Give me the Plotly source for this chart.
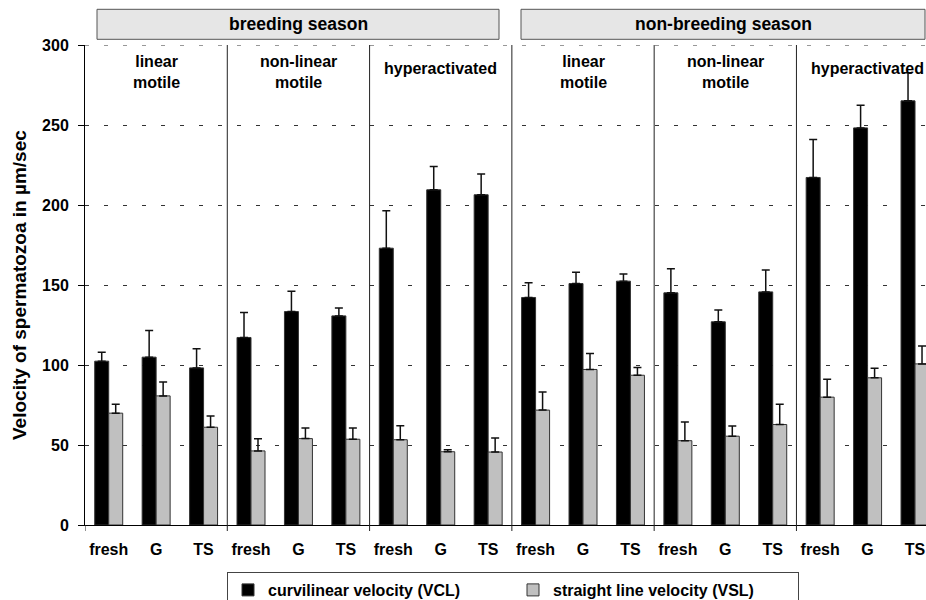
import plotly.graph_objects as go

# ---- data -------------------------------------------------------------
treatments = ["fresh", "G", "TS"] * 6
panel_titles = ["linear<br>motile", "non-linear<br>motile", "hyperactivated",
                "linear<br>motile", "non-linear<br>motile", "hyperactivated"]
seasons = ["breeding season", "non-breeding season"]

vcl = [102.4, 104.9, 98.2, 117.2, 133.4, 130.7, 173.0, 209.5, 206.4,
       142.2, 150.9, 152.4, 145.1, 127.0, 145.7, 217.2, 248.2, 265.1]
vcl_err = [5.6, 16.7, 11.9, 15.6, 12.7, 5.0, 23.4, 14.6, 12.9,
           9.2, 7.1, 4.4, 15.0, 7.3, 13.6, 23.7, 14.2, 17.5]
vsl = [69.9, 80.7, 61.1, 46.3, 54.0, 53.6, 53.3, 45.8, 45.6,
       71.8, 97.2, 93.6, 52.7, 55.5, 62.8, 79.9, 92.0, 100.7]
vsl_err = [5.6, 8.6, 7.1, 7.6, 6.6, 7.0, 8.8, 1.3, 8.7,
           11.4, 10.0, 4.8, 11.6, 6.3, 12.7, 11.2, 6.0, 11.1]

y_ticks = [0, 50, 100, 150, 200, 250, 300]

# ---- layout constants -------------------------------------------------
FONT = "Liberation Sans, Arial, sans-serif"
W, H = 926, 600
ML, MR, MT, MB = 85, 0, 45, 75
PW, PH = W - ML - MR, H - MT - MB
CAT_W = 47.43                      # pixel width of one category slot
GRID_DASH = "4px,15px"


def px_x(px):
    return (px - ML) / PW


def px_y(py):
    return (H - MB - py) / PH


x = list(range(len(treatments)))

fig = go.Figure()
fig.add_trace(go.Bar(
    x=x, y=vcl, name="curvilinear velocity (VCL)",
    marker=dict(color="#000000", line=dict(color="#333333", width=1)),
    error_y=dict(type="data", array=vcl_err, arrayminus=[0] * len(vcl),
                 symmetric=False, color="#111111", thickness=1.5, width=4),
))
fig.add_trace(go.Bar(
    x=x, y=vsl, name="straight line velocity (VSL)",
    marker=dict(color="#c0c0c0", line=dict(color="#333333", width=1)),
    error_y=dict(type="data", array=vsl_err, arrayminus=[0] * len(vsl),
                 symmetric=False, color="#111111", thickness=1.5, width=4),
))

shapes = []
# dashed line along the top of the value range
shapes.append(dict(type="line", xref="paper", yref="y", x0=0, x1=1,
                   y0=y_ticks[-1], y1=y_ticks[-1],
                   line=dict(color="#333333", width=1, dash=GRID_DASH),
                   layer="below"))
# panel separators, running from the top of the plot to just below the axis
for b in [-0.5, 2.5, 5.5, 8.5, 11.5, 14.5]:
    shapes.append(dict(type="line", xref="x", yref="paper",
                       x0=b, x1=b, y0=-6 / PH, y1=0 if b < 0 else 1,
                       line=dict(color="#222222", width=1), layer="above"))

# season header boxes
season_boxes = [(97, 499), (521, 925)]
annotations = []
for (a, b), name in zip(season_boxes, seasons):
    shapes.append(dict(type="rect", xref="paper", yref="paper",
                       x0=px_x(a), x1=px_x(b), y0=px_y(39.3), y1=px_y(9.3),
                       fillcolor="#e6e6e6", line=dict(color="#555555", width=1),
                       layer="above"))
    annotations.append(dict(xref="paper", yref="paper",
                            x=px_x((a + b) / 2), y=px_y(24.5),
                            text=name, showarrow=False, xanchor="center",
                            yanchor="middle",
                            font=dict(family=FONT, size=17.5, color="#000",
                                      weight="bold")))

# panel titles
for i, t in enumerate(panel_titles):
    two_lines = "<br>" in t
    annotations.append(dict(xref="x", yref="paper", x=3 * i + 1,
                            y=px_y(72.5 if two_lines else 68),
                            text=t, showarrow=False, xanchor="center",
                            yanchor="middle", align="center",
                            font=dict(family=FONT, size=16, color="#000",
                                      weight="bold")))

# y-axis title
annotations.append(dict(xref="paper", yref="paper", x=px_x(19), y=0.5,
                        text="Velocity of spermatozoa in µm/sec",
                        textangle=-90, showarrow=False,
                        xanchor="center", yanchor="middle",
                        font=dict(family=FONT, size=19, color="#000",
                                  weight="bold")))

fig.update_layout(
    width=W, height=H,
    margin=dict(l=ML, r=MR, t=MT, b=MB, pad=0, autoexpand=False),
    paper_bgcolor="white", plot_bgcolor="white",
    barmode="group", bargap=0.41, bargroupgap=0,
    font=dict(family=FONT, size=16, color="#000", weight="bold"),
    shapes=shapes, annotations=annotations,
    showlegend=True,
    legend=dict(orientation="h", x=px_x(513), xanchor="center",
                y=px_y(572), yanchor="top",
                bordercolor="#444444", borderwidth=1, bgcolor="white",
                entrywidth=240, entrywidthmode="pixels",
                font=dict(family=FONT, size=16, color="#000", weight="bold")),
    xaxis=dict(range=[-0.5, -0.5 + PW / CAT_W], tickmode="array",
               tickvals=x, ticktext=treatments, ticks="",
               showline=True, linecolor="#000", linewidth=1,
               showgrid=False, zeroline=False, ticklabelstandoff=10,
               tickfont=dict(family=FONT, size=16, color="#000",
                             weight="bold")),
    yaxis=dict(range=[0, 300], tickmode="array", tickvals=y_ticks,
               ticks="outside", ticklen=6, tickcolor="#000", tickwidth=1,
               showline=True, linecolor="#000", linewidth=1,
               showgrid=True, gridcolor="#333333", gridwidth=1,
               griddash=GRID_DASH, zeroline=False, ticklabelstandoff=6,
               tickfont=dict(family=FONT, size=16, color="#000",
                             weight="bold")),
)

fig.write_html("out.html")
